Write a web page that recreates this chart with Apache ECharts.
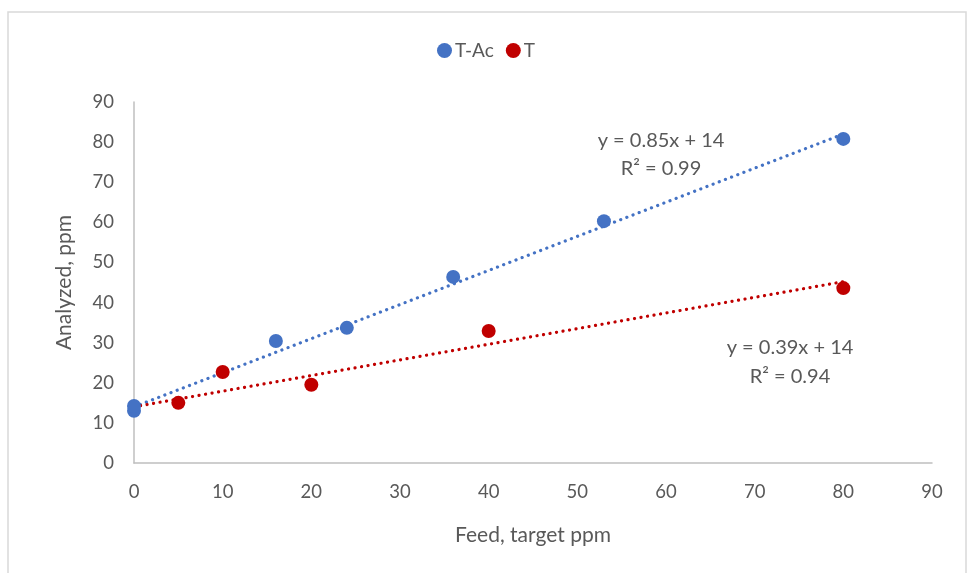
<!DOCTYPE html>
<html><head><meta charset="utf-8">
<script src="https://cdn.jsdelivr.net/npm/echarts@6/dist/echarts.min.js"></script>
<style>html,body{margin:0;padding:0;background:#fff}#c{width:972px;height:573px}</style>
</head><body><div id="c"></div>
<script>
const tacX = [0, 0, 16, 24, 36, 53, 80];
const tacY = [13, 14.2, 30.4, 33.7, 46.4, 60.3, 80.8];
const tX = [5, 10, 20, 40, 80];
const tY = [15.0, 22.7, 19.5, 32.9, 43.6];
const tacFit = [0.85, 14];  // slope, intercept
const tFit = [0.39, 14];
const fitRange = [0, 80];
const tacEq = ['y = 0.85x + 14', 'R² = 0.99'];
const tEq = ['y = 0.39x + 14', 'R² = 0.94'];

const FONT = 'Lato';
const GRAY = '#595959';
const BLUE = '#4472C4';
const RED = '#C00000';
const zip = (a, b) => a.map((v, i) => [v, b[i]]);
const fitLine = f => fitRange.map(x => [x, f[0] * x + f[1]]);
const dots = c => ({ color: c, width: 3.2, type: [0.1, 6.5], cap: 'round' });

const chart = echarts.init(document.getElementById('c'));
chart.setOption({
  animation: false,
  textStyle: { fontFamily: FONT },
  grid: { left: 134, right: 40, top: 102, bottom: 110 },
  legend: {
    top: 36, left: 'center', itemGap: 12, itemWidth: 15, itemHeight: 15,
    data: [{ name: 'T-Ac', icon: 'circle' }, { name: 'T', icon: 'circle' }],
    itemStyle: { opacity: 1 },
    textStyle: { fontFamily: FONT, fontSize: 19, color: GRAY, padding: [0, 0, 0, -2] }
  },
  xAxis: {
    type: 'value', min: 0, max: 90, interval: 10,
    name: 'Feed, target ppm', nameLocation: 'middle', nameGap: 62,
    nameTextStyle: { fontFamily: FONT, fontSize: 21, color: GRAY },
    axisLine: { lineStyle: { color: '#BFBFBF', width: 1.5 } },
    axisTick: { show: false }, splitLine: { show: false },
    axisLabel: { fontFamily: FONT, fontSize: 18.5, color: GRAY, margin: 20 }
  },
  yAxis: {
    type: 'value', min: 0, max: 90, interval: 10,
    name: 'Analyzed, ppm', nameLocation: 'middle', nameGap: 59,
    nameTextStyle: { fontFamily: FONT, fontSize: 21, color: GRAY },
    axisLine: { show: true, lineStyle: { color: '#BFBFBF', width: 1.5 } },
    axisTick: { show: false }, splitLine: { show: false },
    axisLabel: { fontFamily: FONT, fontSize: 18.5, color: GRAY, margin: 20 }
  },
  series: [
    { name: 'T-Ac fit', type: 'line', data: fitLine(tacFit), symbol: 'none', lineStyle: dots(BLUE), z: 1, silent: true },
    { name: 'T fit', type: 'line', data: fitLine(tFit), symbol: 'none', lineStyle: dots(RED), z: 1, silent: true },
    { name: 'T-Ac', type: 'scatter', data: zip(tacX, tacY), symbolSize: 14, itemStyle: { color: BLUE, opacity: 1 }, z: 3 },
    { name: 'T', type: 'scatter', data: zip(tX, tY), symbolSize: 14, itemStyle: { color: RED, opacity: 1 }, z: 4 }
  ],
  graphic: [
    { type: 'rect', shape: { x: 8, y: 12, width: 958, height: 600 }, style: { fill: 'none', stroke: '#D9D9D9', lineWidth: 1.5 }, z: -10, silent: true },
    { type: 'text', x: 661, y: 141, style: { text: tacEq[0], font: '20px ' + FONT, fill: GRAY, align: 'center', verticalAlign: 'middle' } },
    { type: 'text', x: 661, y: 169, style: { text: tacEq[1], font: '20px ' + FONT, fill: GRAY, align: 'center', verticalAlign: 'middle' } },
    { type: 'text', x: 790, y: 348, style: { text: tEq[0], font: '20px ' + FONT, fill: GRAY, align: 'center', verticalAlign: 'middle' } },
    { type: 'text', x: 790, y: 377, style: { text: tEq[1], font: '20px ' + FONT, fill: GRAY, align: 'center', verticalAlign: 'middle' } }
  ]
});
</script></body></html>
